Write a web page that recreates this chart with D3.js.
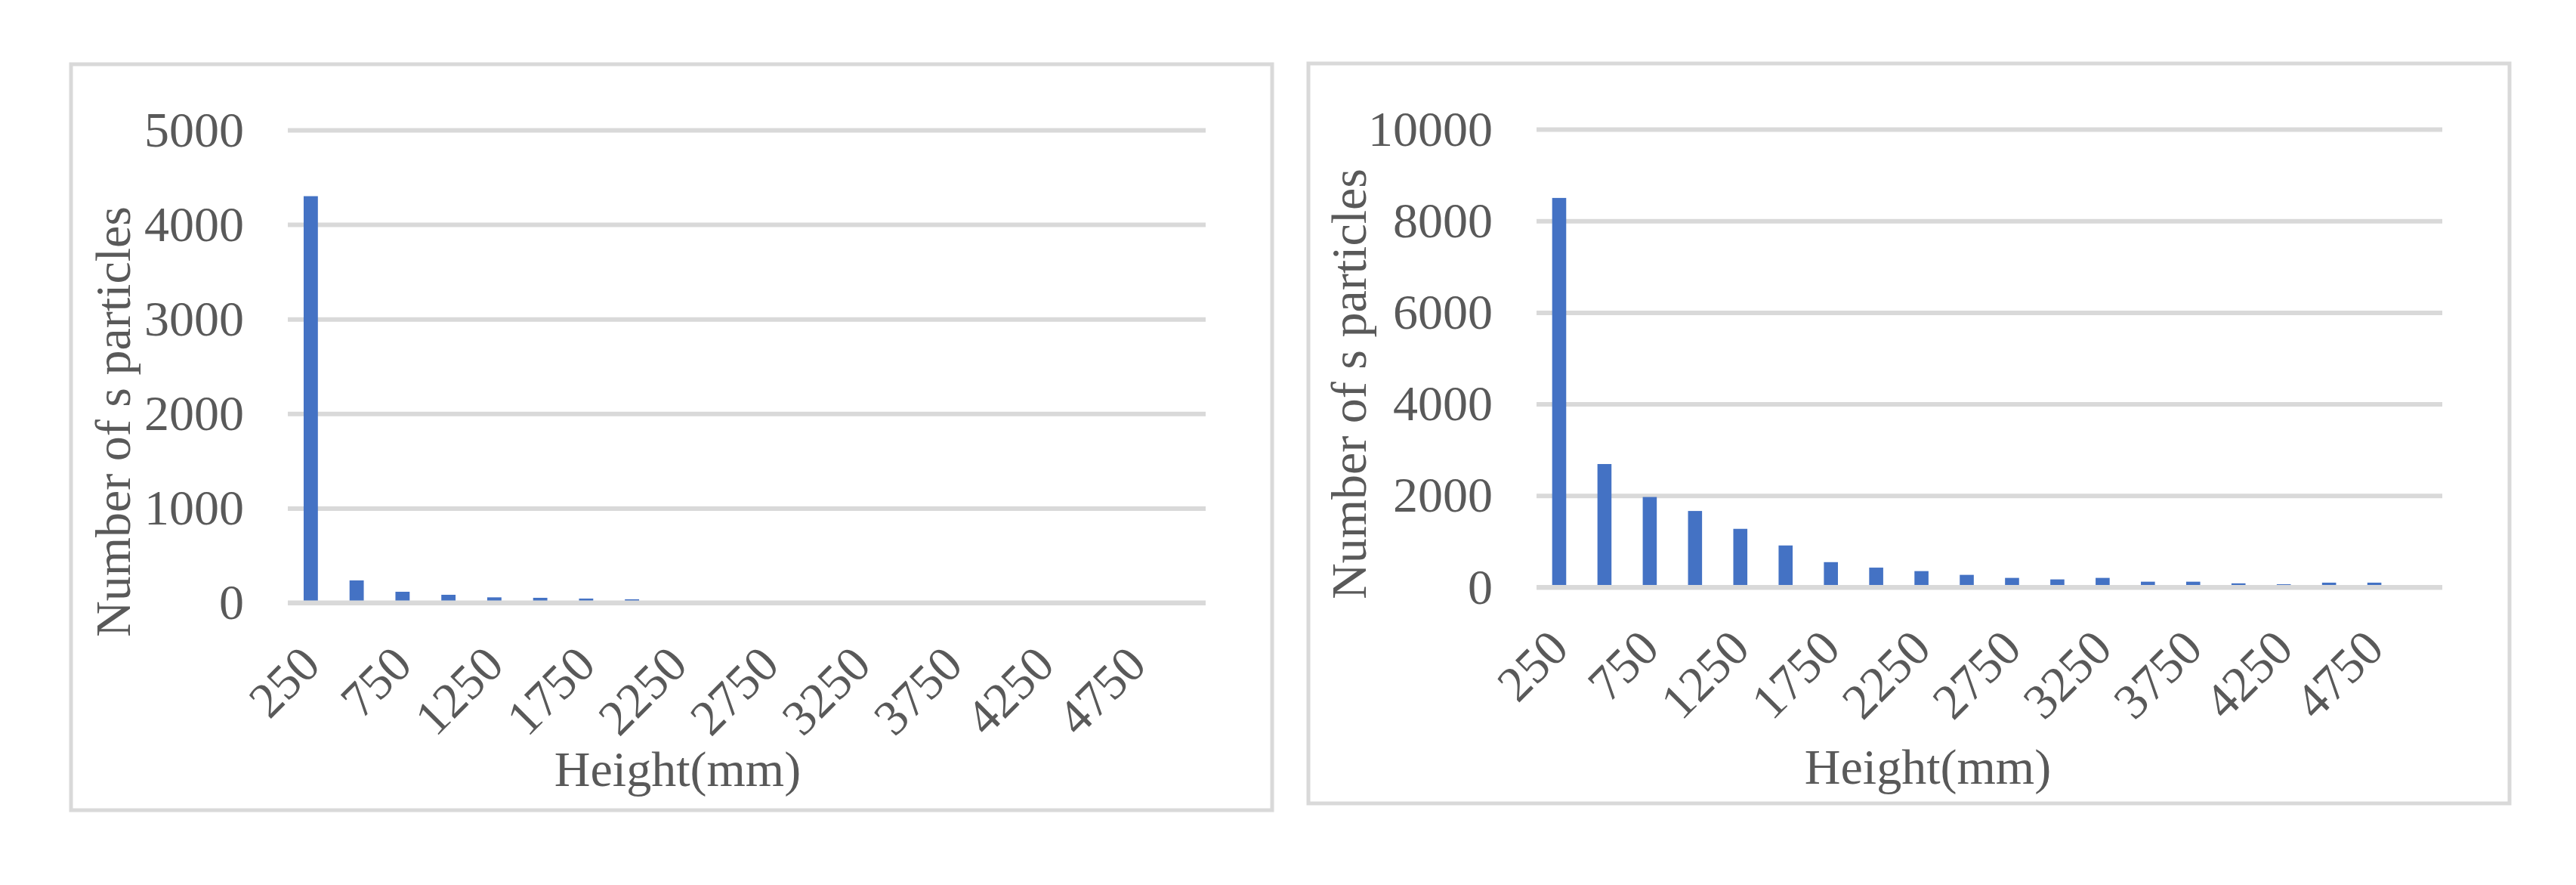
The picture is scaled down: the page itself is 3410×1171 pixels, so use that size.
<!DOCTYPE html>
<html>
<head>
<meta charset="utf-8">
<script src="https://cdn.jsdelivr.net/npm/d3@7"></script>
<style>
  html, body { margin: 0; padding: 0; background: #fff; }
  svg { display: block; }
  text { font-family: "Liberation Serif", "Times New Roman", serif; fill: #595959; }
</style>
</head>
<body>
<svg width="3410" height="1171"></svg>
<script>
// categories (height bins, mm)
var heights = ["250","500","750","1000","1250","1500","1750","2000","2250","2500",
               "2750","3000","3250","3500","3750","4000","4250","4500","4750","5000"];
// counts
var countsLeft  = [4300, 236, 116, 84, 57, 52, 44, 36, 0, 0, 0, 0, 0, 0, 0, 0, 0, 0, 0, 0];
var countsRight = [8500, 2690, 1970, 1665, 1275, 912, 548, 428, 352, 270,
                   204, 171, 204, 121, 121, 85, 65, 100, 100, 0];
var ticksLeft  = [0, 1000, 2000, 3000, 4000, 5000];
var ticksRight = [0, 2000, 4000, 6000, 8000, 10000];
var yTitle = "Number of s particles";
var xTitle = "Height(mm)";

var svg = d3.select("svg");
svg.append("rect").attr("width", 3410).attr("height", 1171).attr("fill", "#fff");

function drawChart(cfg) {
  var g = svg.append("g");
  // outer frame
  g.append("rect")
    .attr("x", cfg.frame[0]).attr("y", cfg.frame[1])
    .attr("width", cfg.frame[2]).attr("height", cfg.frame[3])
    .attr("fill", "none").attr("stroke", "#d9d9d9").attr("stroke-width", 5);

  var x = d3.scaleBand().domain(heights).range([cfg.left, cfg.right])
    .paddingInner(0.69).paddingOuter(0.345);
  var y = d3.scaleLinear().domain([0, cfg.max]).range([cfg.bottom, cfg.top]);
  var w = cfg.right - cfg.left;

  // gridlines + y labels
  var ya = g.append("g").attr("transform", "translate(" + cfg.left + ",0)")
    .call(d3.axisLeft(y).tickValues(cfg.ticks).tickSize(-w).tickPadding(58).tickFormat(d3.format("d")));
  ya.select(".domain").remove();
  ya.selectAll(".tick line").attr("stroke", "#d9d9d9").attr("stroke-width", 6);
  ya.selectAll(".tick text").attr("font-size", 66).attr("font-family", null).attr("fill", "#595959");

  // bars
  g.append("g").selectAll("rect")
    .data(cfg.values)
    .enter().append("rect")
      .attr("x", function(d, i) { return x(heights[i]); })
      .attr("y", function(d) { return y(d); })
      .attr("width", x.bandwidth())
      .attr("height", function(d) { return cfg.bottom - y(d); })
      .attr("fill", "#4472c4");

  // category axis
  var xa = g.append("g").attr("transform", "translate(0," + cfg.bottom + ")")
    .call(d3.axisBottom(x).tickSize(0)
      .tickFormat(function(d, i) { return i % 2 == 0 ? d : ""; }));
  xa.select(".domain").attr("stroke", "#d9d9d9").attr("stroke-width", 6)
    .attr("d", "M" + cfg.left + ",0H" + cfg.right);
  xa.selectAll(".tick text")
    .attr("font-size", 66).attr("font-family", null).attr("fill", "#595959")
    .attr("x", 0).attr("y", 0).attr("dy", "0.33em")
    .attr("text-anchor", "end")
    .attr("transform", "translate(0," + cfg.labelOff + ") rotate(-45)");

  // titles
  g.append("text")
    .attr("transform", "translate(" + cfg.yTitle[0] + "," + cfg.yTitle[1] + ") rotate(-90)")
    .attr("text-anchor", "middle").attr("font-size", 66)
    .text(yTitle);
  g.append("text")
    .attr("x", cfg.xTitle[0]).attr("y", cfg.xTitle[1])
    .attr("text-anchor", "middle").attr("font-size", 66)
    .text(xTitle);
}

drawChart({
  frame: [94, 85, 1590, 987],
  left: 381, right: 1596, top: 172, bottom: 797.5,
  max: 5000, ticks: ticksLeft, values: countsLeft,
  labelOff: 70, yTitle: [172, 558], xTitle: [897, 1040]
});

drawChart({
  frame: [1732, 84, 1590, 979],
  left: 2034, right: 3233, top: 171, bottom: 777,
  max: 10000, ticks: ticksRight, values: countsRight,
  labelOff: 69, yTitle: [1808, 508], xTitle: [2552, 1037]
});
</script>
</body>
</html>
